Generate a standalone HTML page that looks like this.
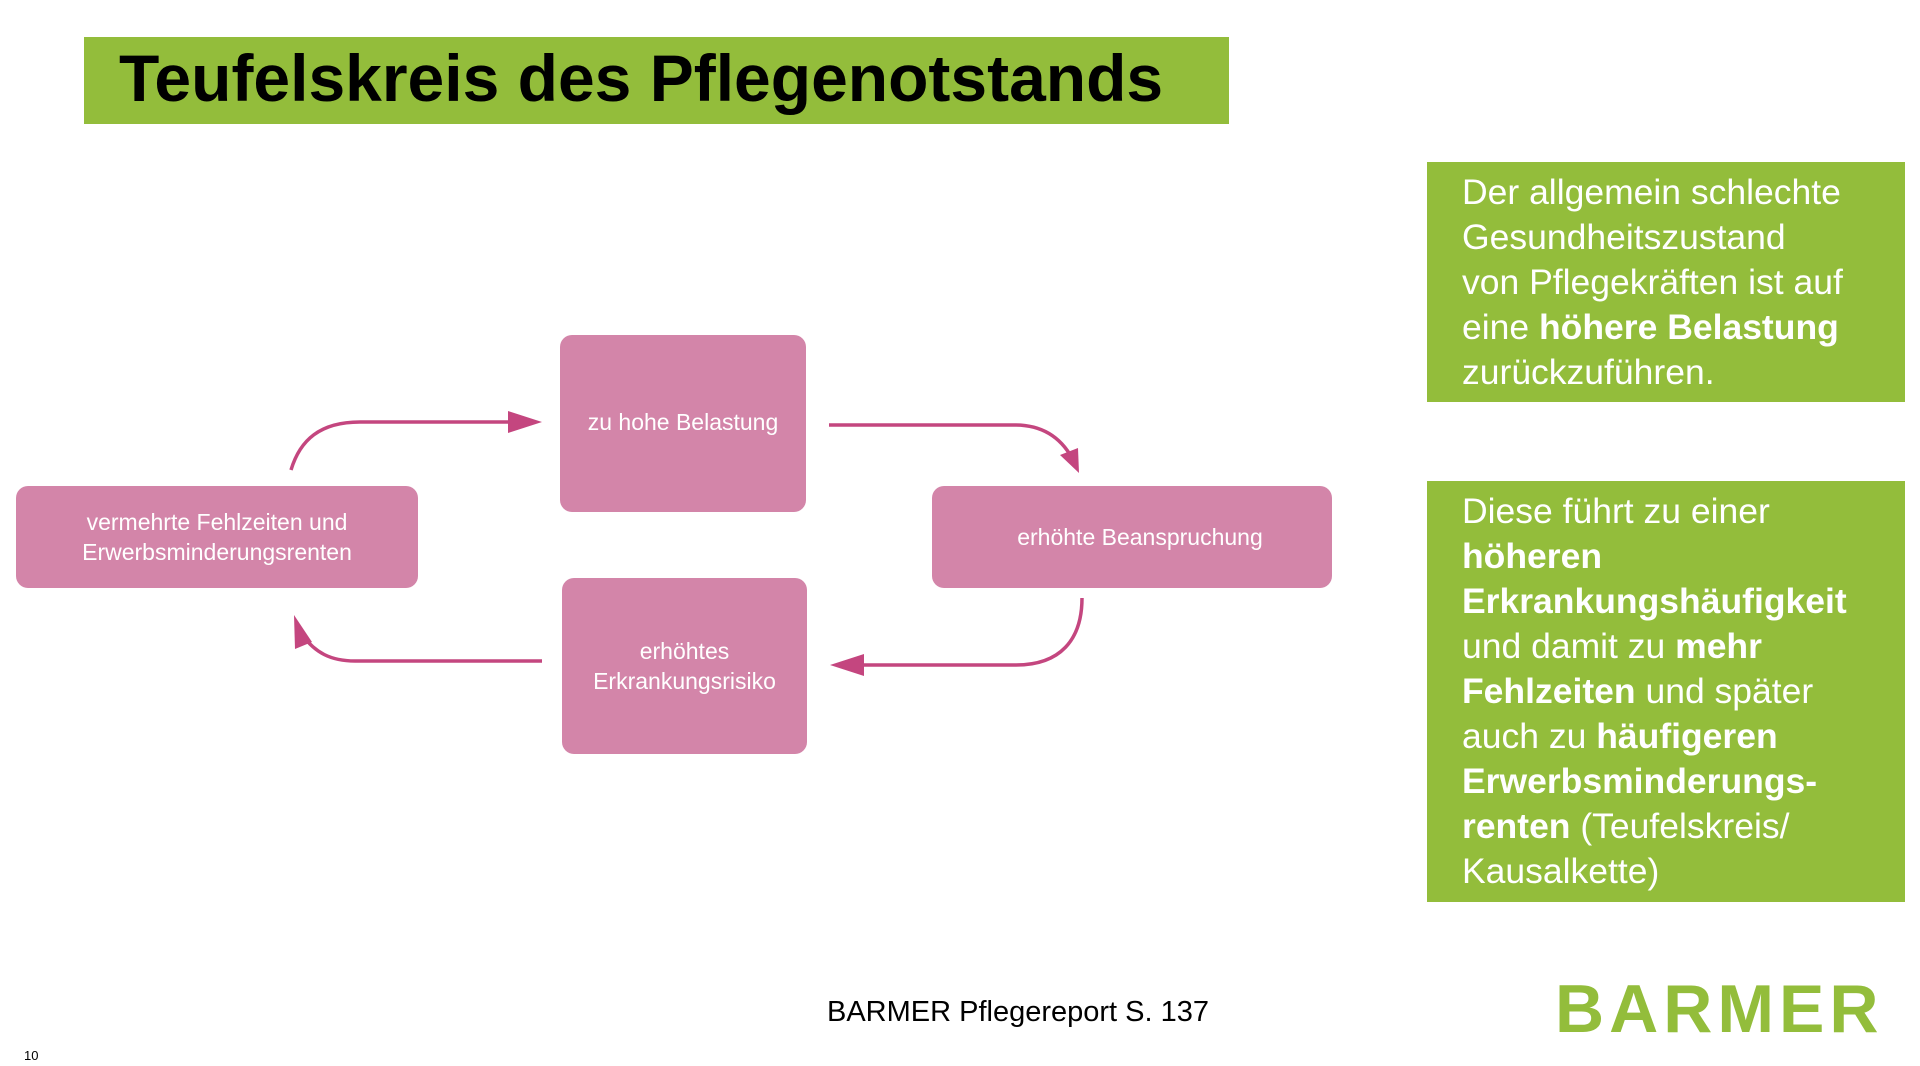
<!DOCTYPE html>
<html><head><meta charset="utf-8"><style>
html,body{margin:0;padding:0;background:#fff;}
body{width:1920px;height:1066px;position:relative;overflow:hidden;font-family:"Liberation Sans",Arial,sans-serif;}
.abs{position:absolute;}
.title{left:84px;top:37px;width:1145px;height:87px;background:#93bd3b;}
.title span{position:absolute;left:35px;top:3px;font-size:66px;font-weight:bold;color:#000;white-space:nowrap;}
.gbox{background:#93bd3b;color:#fff;font-size:35.5px;line-height:45px;padding:10px 0 0 35px;box-sizing:border-box;white-space:nowrap;}
.pink{background:#d385a9;border-radius:12px;color:#fff;font-size:23px;line-height:30px;display:flex;align-items:center;justify-content:center;text-align:center;}
</style></head><body>
<div class="abs title"><span>Teufelskreis des Pflegenotstands</span></div>
<div class="abs gbox" style="left:1427px;top:162px;width:478px;height:240px;padding-top:8px;">Der allgemein schlechte<br>Gesundheitszustand<br>von Pflegekräften ist auf<br>eine <b>höhere Belastung</b><br>zurückzuführen.</div>
<div class="abs gbox" style="left:1427px;top:481px;width:478px;height:421px;padding-top:8px;">Diese führt zu einer<br><b>höheren</b><br><b>Erkrankungshäufigkeit</b><br>und damit zu <b>mehr</b><br><b>Fehlzeiten</b> und später<br>auch zu <b>häufigeren</b><br><b>Erwerbsminderungs-</b><br><b>renten</b> (Teufelskreis/<br>Kausalkette)</div>

<div class="abs pink" style="left:560px;top:335px;width:246px;height:177px;align-items:flex-start;padding-top:72px;box-sizing:border-box;">zu hohe Belastung</div>
<div class="abs pink" style="left:16px;top:486px;width:402px;height:102px;">vermehrte Fehlzeiten und<br>Erwerbsminderungsrenten</div>
<div class="abs pink" style="left:932px;top:486px;width:400px;height:102px;padding-left:16px;box-sizing:border-box;">erhöhte Beanspruchung</div>
<div class="abs pink" style="left:562px;top:578px;width:245px;height:176px;">erhöhtes<br>Erkrankungsrisiko</div>

<svg class="abs" style="left:0;top:0" width="1920" height="1066">
<g fill="none" stroke="#c4467f" stroke-width="3.5">
<path d="M291 470 C300 440 320 422 360 422 L515 422"/>
<path d="M829 425 L1015 425 C1045 425 1062 440 1072 458"/>
<path d="M1082 598 C1082 640 1060 665 1016 665 L855 665"/>
<path d="M542 661 L355 661 C330 661 315 652 303 636"/>
</g>
<g fill="#c4467f">
<polygon points="542,422 508,411 508,433"/>
<polygon points="1079,473 1060,455 1078,448"/>
<polygon points="830,665 864,654 864,676"/>
<polygon points="294,615 312,642 295,649"/>
</g>
</svg>

<div class="abs" style="left:827px;top:996px;font-size:29px;color:#000;white-space:nowrap;">BARMER Pflegereport S. 137</div>
<div class="abs" style="left:1555px;top:970px;font-size:68px;font-weight:bold;color:#93bd3b;letter-spacing:5px;white-space:nowrap;">BARMER</div>
<div class="abs" style="left:24px;top:1048px;font-size:13px;color:#000;">10</div>
</body></html>
